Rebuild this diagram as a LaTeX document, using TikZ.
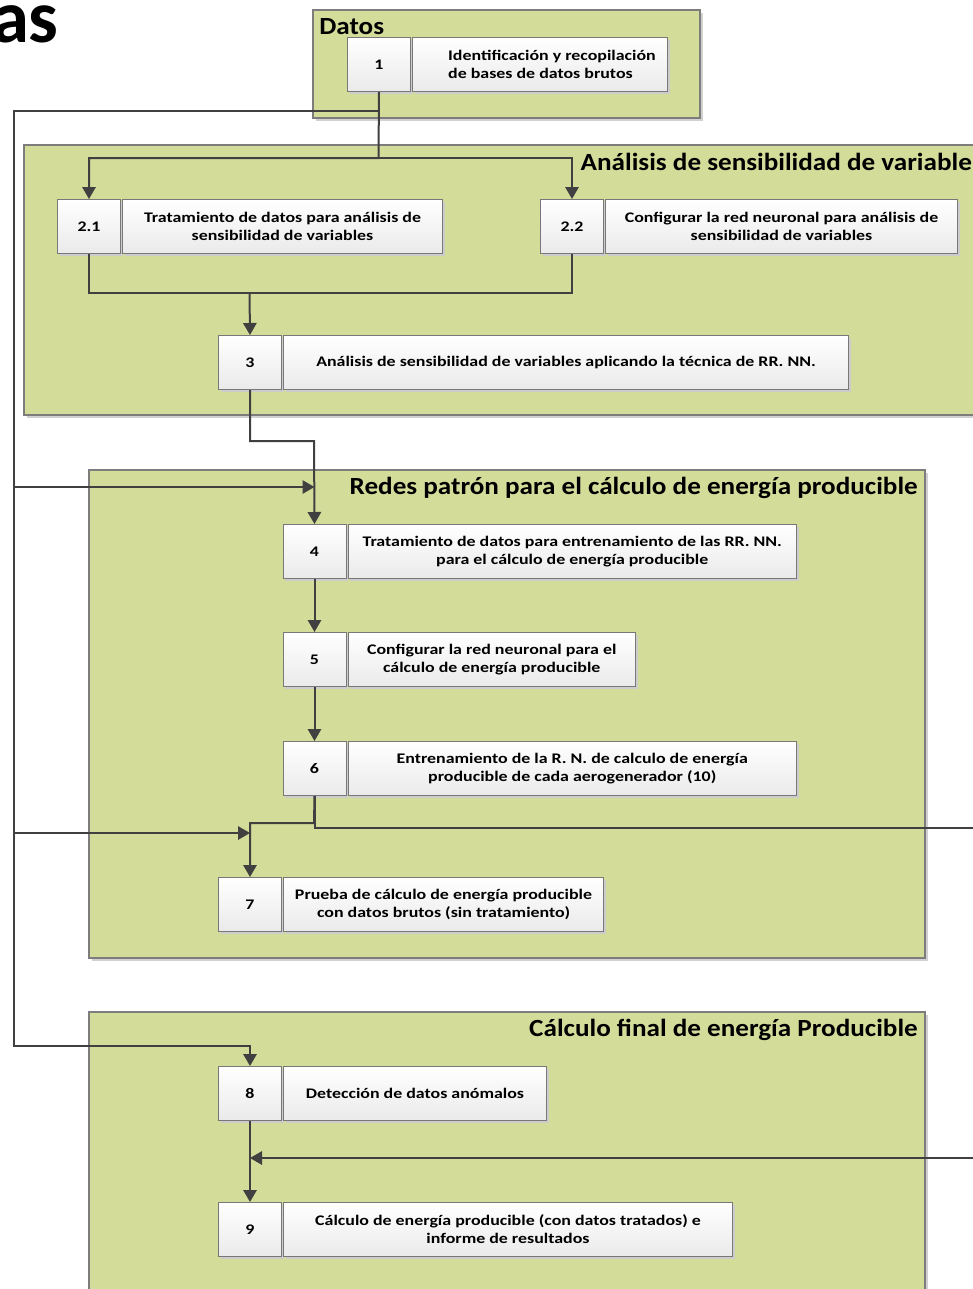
\documentclass[tikz,border=0pt]{standalone}
\usepackage{fontspec}
\setmainfont{Carlito}
\newfontfamily\bodyf{Carlito}[FakeStretch=1.22]
\newfontfamily\titlef{Carlito}[FakeStretch=1.1]
\usetikzlibrary{arrows.meta,shadows}
\definecolor{panel}{RGB}{212,220,154}
\definecolor{panelline}{RGB}{125,125,125}
\definecolor{cellline}{RGB}{120,120,120}
\definecolor{wire}{RGB}{64,64,64}
\definecolor{cellbot}{RGB}{234,234,234}
\tikzset{
  panelbox/.style={fill=panel, draw=panelline, line width=1pt,
    drop shadow={shadow xshift=2pt, shadow yshift=-2pt, fill=black!18, opacity=1}},
  numcell/.style={draw=cellline, line width=0.75pt, top color=white, bottom color=cellbot,
    minimum width=47.25pt, minimum height=40.5pt, inner sep=0pt,
    font=\bodyf\bfseries\fontsize{11}{13.5}\selectfont,
    drop shadow={shadow xshift=1.5pt, shadow yshift=-1.5pt, fill=black!20, opacity=1}},
  textcell/.style={numcell, minimum width=#1, align=center},
  textcellL/.style={numcell, minimum width=#1, align=left},
  titlenode/.style={inner sep=0pt, font=\titlef\bfseries\fontsize{18.5}{20}\selectfont},
  wire/.style={draw=wire, line width=1.5pt},
  arr/.style={wire, -{Triangle[length=9pt,width=10pt]}}
}
\newcommand\procbox[7]{% style, name, xleft, xright, ytop, number, text
  \node[numcell, anchor=north west] (#2n) at (#3,#5) {#6};
  \pgfmathsetmacro\tw{(#4-#3-65)*0.75}
  \node[#1=\tw pt, anchor=north west] (#2t) at ({#3+65},#5) {#7};
}
\begin{document}
\begin{tikzpicture}[x=0.75pt, y=-0.75pt]
\useasboundingbox (0,0) rectangle (973,1289);
\clip (0,0) rectangle (973,1289);
\fill[white] (0,0) rectangle (973,1289);

% partial title at top left
\node[anchor=base east, inner sep=0pt, font=\bfseries\fontsize{56}{60}\selectfont] (astitle) at (59,42) {as};

% panels
\path[panelbox] (313,10) rectangle (700,118);
\path[panelbox] (24,145) rectangle (1000,415);
\path[panelbox] (89,470) rectangle (925,958);
\path[panelbox] (89,1012) rectangle (925,1310);

% panel titles
\node[titlenode, anchor=west] (tdatos) at (319,27) {Datos};
\node[titlenode, anchor=east] (tanal) at (972,162) {Análisis de sensibilidad de variable};
\node[titlenode, anchor=east] (tredes) at (918,488) {Redes patrón para el cálculo de energía producible};
\node[titlenode, anchor=east] (tcalc) at (918,1030) {Cálculo final de energía Producible};

% process boxes
\procbox{textcellL}{b1}{347}{667}{37}{1}{\hspace*{18pt}Identificación y recopilación\\\hspace*{18pt}de bases de datos brutos}
\procbox{textcell}{b21}{57}{442}{199}{2.1}{Tratamiento de datos para análisis de\\sensibilidad de variables}
\procbox{textcell}{b22}{540}{957}{199}{2.2}{Configurar la red neuronal para análisis de\\sensibilidad de variables}
\procbox{textcell}{b3}{218}{848}{335}{3}{Análisis de sensibilidad de variables aplicando la técnica de RR. NN.}
\procbox{textcell}{b4}{282.5}{796}{524}{4}{Tratamiento de datos para entrenamiento de las RR. NN.\\para el cálculo de energía producible}
\procbox{textcell}{b5}{282.5}{635}{632}{5}{Configurar la red neuronal para el\\cálculo de energía producible}
\procbox{textcell}{b6}{282.5}{796}{741}{6}{Entrenamiento de la R. N. de calculo de energía\\producible de cada aerogenerador (10)}
\procbox{textcell}{b7}{218}{603}{877}{7}{Prueba de cálculo de energía producible\\con datos brutos (sin tratamiento)}
\procbox{textcell}{b8}{218}{546}{1066}{8}{Detección de datos anómalos}
\procbox{textcell}{b9}{218}{732}{1202}{9}{Cálculo de energía producible (con datos tratados) e\\informe de resultados}

% junctions
\coordinate (j1) at (378.5,158);
\coordinate (L0) at (378.5,111);
\coordinate (L1) at (14,111);
\coordinate (L2) at (14,487);
\coordinate (L3) at (14,833);
\coordinate (L4) at (14,1046);
\coordinate (j2) at (249.5,293);
\coordinate (j3) at (314,441);
\coordinate (j6) at (314,823);
\coordinate (R1) at (980,828);
\coordinate (R2) at (980,1158);

% connectors
\draw[arr] (b1n.south) -- (j1) -| (b21n.north);
\draw[arr] (j1) -| (b22n.north);
\draw[arr] (L0) -- (L1) -- (L4) -| (b8n.north);
\draw[arr] (L2) -- (b4n.north |- L2);
\draw[arr] (L3) -- (b7n.north |- L3);
\draw[wire] (b21n.south) |- (j2) -| (b22n.south);
\draw[arr] (j2) -- (b3n.north);
\draw[arr] (b3n.south) |- (j3) -- (b4n.north);
\draw[arr] (b4n.south) -- (b5n.north);
\draw[arr] (b5n.south) -- (b6n.north);
\draw[arr] (b6n.south) -- (j6) -| (b7n.north);
\draw[wire] (b6n.south) |- (R1);
\draw[arr] (R2) -- (b8n.south |- R2);
\draw[arr] (b8n.south) -- (b9n.north);
\end{tikzpicture}
\end{document}
